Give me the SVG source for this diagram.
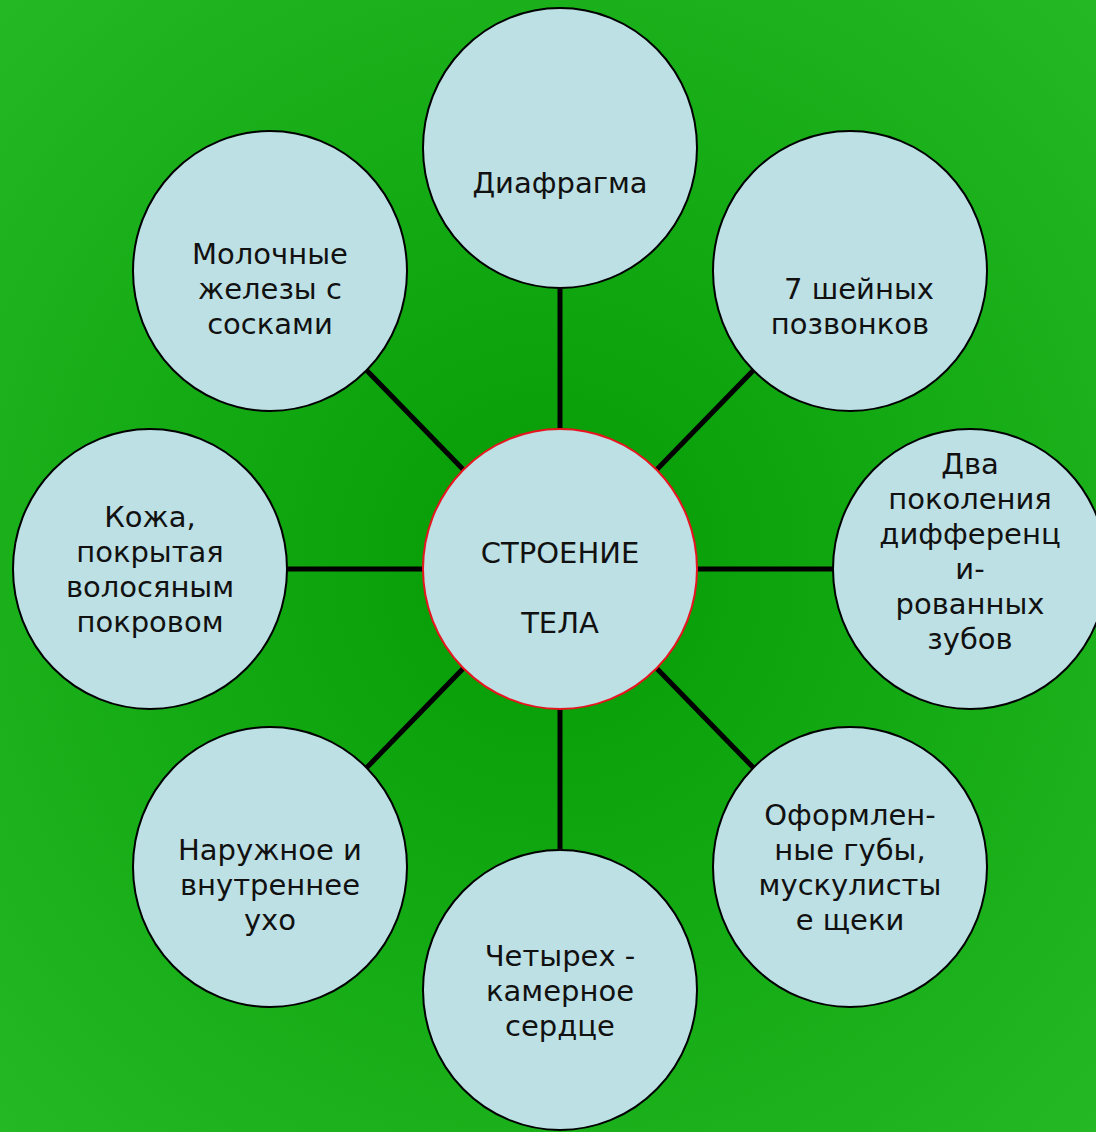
<svg xmlns="http://www.w3.org/2000/svg" width="1096" height="1132" viewBox="0 0 1096 1132">
<defs>
<radialGradient id="bg" cx="50%" cy="50%" r="72%">
<stop offset="0" stop-color="#049b04"/>
<stop offset="1" stop-color="#25ba25"/>
</radialGradient>
</defs>
<style>
.n{fill:#bce0e4;stroke:#000;stroke-width:2}
.c{fill:#bce0e4;stroke:#e8141e;stroke-width:2}
.t{font-family:"DejaVu Sans","Verdana",sans-serif;font-size:29px;fill:#111;text-anchor:middle}
.l{stroke:#000;stroke-width:5;fill:none}
</style>
<rect width="1096" height="1132" fill="url(#bg)"/>
<g id="connectors">
<line class="l" x1="560" y1="569" x2="560" y2="148"/>
<line class="l" x1="560" y1="569" x2="560" y2="990"/>
<line class="l" x1="560" y1="569" x2="150" y2="569"/>
<line class="l" x1="560" y1="569" x2="970" y2="569"/>
<line class="l" x1="560" y1="569" x2="270" y2="271"/>
<line class="l" x1="560" y1="569" x2="850" y2="271"/>
<line class="l" x1="560" y1="569" x2="270" y2="867"/>
<line class="l" x1="560" y1="569" x2="850" y2="867"/>
</g>
<g id="center">
<ellipse class="c" cx="560" cy="569" rx="137" ry="140"/>
<text class="t" x="560" y="563">СТРОЕНИЕ</text>
<text class="t" x="560" y="633">ТЕЛА</text>
</g>
<g id="n-top">
<ellipse class="n" cx="560" cy="148" rx="137" ry="140"/>
<text class="t" x="560" y="193">Диафрагма</text>
</g>
<g id="n-topright">
<ellipse class="n" cx="850" cy="271" rx="137" ry="140"/>
<text class="t" x="859" y="299">7 шейных</text>
<text class="t" x="850" y="334">позвонков</text>
</g>
<g id="n-right">
<ellipse class="n" cx="970" cy="569" rx="137" ry="140"/>
<text class="t" x="970" y="474">Два</text>
<text class="t" x="970" y="509">поколения</text>
<text class="t" x="970" y="544">дифференц</text>
<text class="t" x="970" y="579">и-</text>
<text class="t" x="970" y="614">рованных</text>
<text class="t" x="970" y="649">зубов</text>
</g>
<g id="n-bottomright">
<ellipse class="n" cx="850" cy="867" rx="137" ry="140"/>
<text class="t" x="850" y="825">Оформлен-</text>
<text class="t" x="850" y="860">ные губы,</text>
<text class="t" x="850" y="895">мускулисты</text>
<text class="t" x="850" y="930">е щеки</text>
</g>
<g id="n-bottom">
<ellipse class="n" cx="560" cy="990" rx="137" ry="140"/>
<text class="t" x="560" y="966">Четырех -</text>
<text class="t" x="560" y="1001">камерное</text>
<text class="t" x="560" y="1036">сердце</text>
</g>
<g id="n-bottomleft">
<ellipse class="n" cx="270" cy="867" rx="137" ry="140"/>
<text class="t" x="270" y="860">Наружное и</text>
<text class="t" x="270" y="895">внутреннее</text>
<text class="t" x="270" y="930">ухо</text>
</g>
<g id="n-left">
<ellipse class="n" cx="150" cy="569" rx="137" ry="140"/>
<text class="t" x="150" y="527">Кожа,</text>
<text class="t" x="150" y="562">покрытая</text>
<text class="t" x="150" y="597">волосяным</text>
<text class="t" x="150" y="632">покровом</text>
</g>
<g id="n-topleft">
<ellipse class="n" cx="270" cy="271" rx="137" ry="140"/>
<text class="t" x="270" y="264">Молочные</text>
<text class="t" x="270" y="299">железы с</text>
<text class="t" x="270" y="334">сосками</text>
</g>
</svg>
